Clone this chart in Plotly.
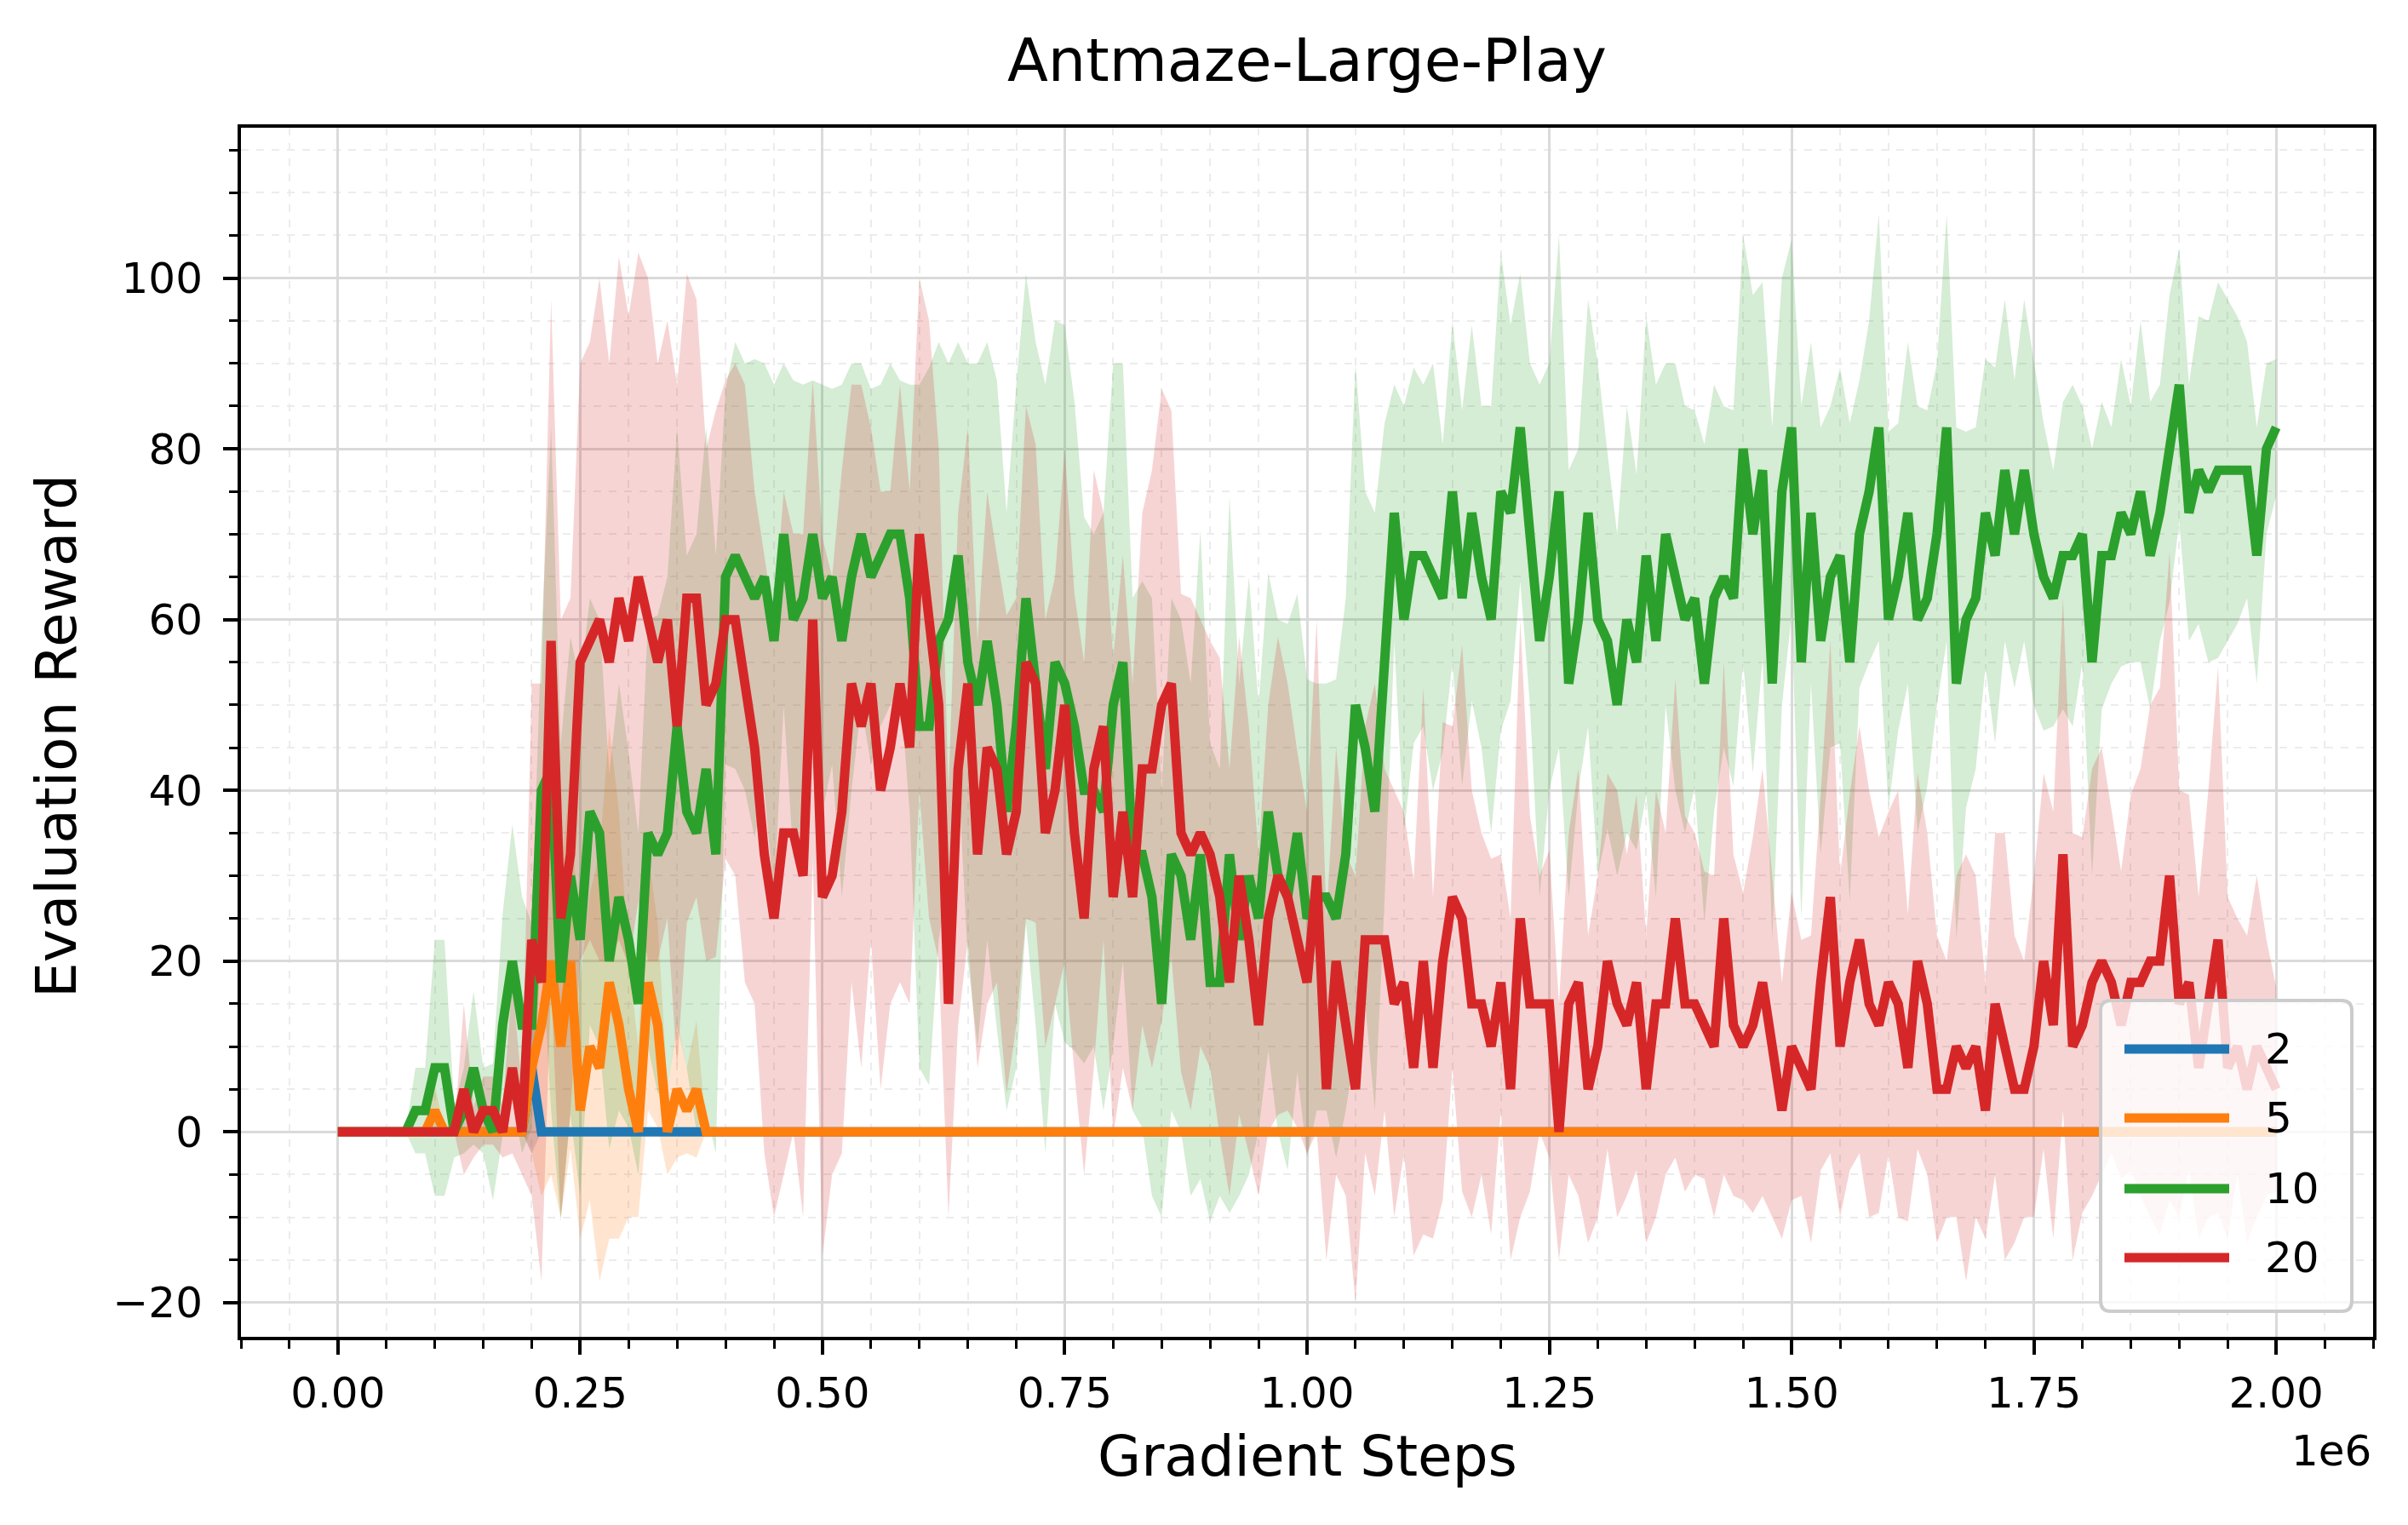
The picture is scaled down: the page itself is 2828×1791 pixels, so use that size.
import plotly.graph_objects as go

# ---------------- data ----------------
steps = [i * 10000 for i in range(201)]
series_names = ["2", "5", "10", "20"]
series_colors = ["#1f77b4", "#ff7f0e", "#2ca02c", "#d62728"]
band_colors = ["rgba(31,119,180,0.2)", "rgba(255,127,14,0.2)",
               "rgba(44,160,44,0.2)", "rgba(214,39,40,0.2)"]

mean_2 = [0.0] * 20 + [7.5] + [0.0] * 180
std_2 = [0.0] * 20 + [10.0] + [0.0] * 180

mean_5 = ([0, 0, 0, 0, 0, 0, 0, 0, 0, 0,
           2.5, 0, 0, 0, 0, 0, 0, 0, 0, 0,
           7.5, 12.5, 20, 10, 20, 2.5, 10, 7.5, 17.5, 12.5,
           5, 0, 17.5, 12.5, 0, 5, 2.5, 5, 0, 0] + [0.0] * 161)
std_5 = ([0, 0, 0, 0, 0, 0, 0, 0, 0, 0,
          3, 0, 0, 0, 0, 0, 0, 0, 0, 0,
          10, 20, 25, 20, 22, 15, 18, 25, 30, 25,
          15, 10, 15, 12, 5, 8, 5, 8, 0, 0] + [0.0] * 161)

mean_10 = [
    0, 0, 0, 0, 0, 0, 0, 0, 2.5, 2.5,
    7.5, 7.5, 0, 2.5, 7.5, 2.5, 0, 12.5, 20, 12.5,
    12.5, 40, 42.5, 17.5, 30, 22.5, 37.5, 35, 20, 27.5,
    22.5, 15, 35, 32.5, 35, 47.5, 37.5, 35, 42.5, 32.5,
    65, 67.5, 65, 62.5, 65, 57.5, 70, 60, 62.5, 70,
    62.5, 65, 57.5, 65, 70, 65, 67.5, 70, 70, 62.5,
    47.5, 47.5, 57.5, 60, 67.5, 55, 50, 57.5, 50, 37.5,
    47.5, 62.5, 52.5, 42.5, 55, 52.5, 47.5, 40, 40, 37.5,
    50, 55, 32.5, 32.5, 27.5, 15, 32.5, 30, 22.5, 32.5,
    17.5, 17.5, 32.5, 22.5, 30, 25, 37.5, 30, 27.5, 35,
    25, 27.5, 27.5, 25, 32.5, 50, 45, 37.5, 55, 72.5,
    60, 67.5, 67.5, 65, 62.5, 75, 62.5, 72.5, 65, 60,
    75, 72.5, 82.5, 70, 57.5, 65, 75, 52.5, 60, 72.5,
    60, 57.5, 50, 60, 55, 67.5, 57.5, 70, 65, 60,
    62.5, 52.5, 62.5, 65, 62.5, 80, 70, 77.5, 52.5, 75,
    82.5, 55, 72.5, 57.5, 65, 67.5, 55, 70, 75, 82.5,
    60, 65, 72.5, 60, 62.5, 70, 82.5, 52.5, 60, 62.5,
    72.5, 67.5, 77.5, 70, 77.5, 70, 65, 62.5, 67.5, 67.5,
    70, 55, 67.5, 67.5, 72.5, 70, 75, 67.5, 72.5, 80,
    87.5, 72.5, 77.5, 75, 77.5, 77.5, 77.5, 77.5, 67.5, 80,
    82.5]
std_10 = [
    0, 0, 0, 0, 0, 0, 0, 0, 5, 5,
    15, 15, 3, 5, 9, 5, 8, 13, 16, 15,
    12, 18, 40, 28, 28, 30, 25, 25, 22, 25,
    22, 20, 25, 28, 30, 35, 30, 35, 40, 35,
    22, 25, 25, 28, 25, 30, 20, 28, 25, 18,
    25, 22, 30, 25, 20, 22, 20, 20, 18, 25,
    40, 42, 35, 30, 25, 35, 40, 35, 38, 35,
    40, 38, 40, 45, 40, 42, 38, 32, 30, 35,
    40, 35, 30, 32, 35, 25, 30, 30, 30, 38,
    28, 25, 42, 30, 35, 25, 28, 30, 32, 28,
    28, 25, 25, 28, 30, 40, 30, 35, 28, 15,
    25, 22, 20, 25, 18, 20, 22, 22, 20, 25,
    28, 22, 18, 20, 30, 25, 30, 25, 20, 25,
    30, 22, 20, 25, 22, 28, 30, 20, 25, 25,
    22, 28, 25, 20, 22, 25, 28, 22, 30, 25,
    22, 30, 20, 25, 20, 22, 28, 18, 20, 25,
    22, 18, 20, 25, 22, 20, 25, 30, 22, 20,
    18, 22, 20, 18, 20, 20, 18, 15, 18, 20,
    15, 25, 18, 15, 18, 15, 20, 18, 15, 18,
    16, 15, 18, 20, 22, 20, 18, 15, 15, 10,
    8]

mean_20 = [
    0, 0, 0, 0, 0, 0, 0, 0, 0, 0,
    0, 0, 0, 5, 0, 2.5, 2.5, 0, 7.5, 0,
    22.5, 17.5, 57.5, 25, 32.5, 55, 57.5, 60, 55, 62.5,
    57.5, 65, 60, 55, 60, 47.5, 62.5, 62.5, 50, 52.5,
    60, 60, 52.5, 45, 32.5, 25, 35, 35, 30, 60,
    27.5, 30, 37.5, 52.5, 47.5, 52.5, 40, 45, 52.5, 45,
    70, 60, 50, 15, 42.5, 52.5, 32.5, 45, 42.5, 32.5,
    37.5, 55, 52.5, 35, 40, 50, 35, 25, 42.5, 47.5,
    27.5, 37.5, 27.5, 42.5, 42.5, 50, 52.5, 35, 32.5, 35,
    32.5, 27.5, 17.5, 30, 22.5, 12.5, 25, 30, 27.5, 22.5,
    17.5, 30, 5, 20, 12.5, 5, 22.5, 22.5, 22.5, 15,
    17.5, 7.5, 20, 7.5, 20, 27.5, 25, 15, 15, 10,
    17.5, 5, 25, 15, 15, 15, 0, 15, 17.5, 5,
    10, 20, 15, 12.5, 17.5, 5, 15, 15, 25, 15,
    15, 12.5, 10, 25, 12.5, 10, 12.5, 17.5, 10, 2.5,
    10, 7.5, 5, 17.5, 27.5, 10, 17.5, 22.5, 15, 12.5,
    17.5, 15, 7.5, 20, 15, 5, 5, 10, 7.5, 10,
    2.5, 15, 10, 5, 5, 10, 20, 12.5, 32.5, 10,
    12.5, 17.5, 20, 17.5, 12.5, 17.5, 17.5, 20, 20, 30,
    15, 17.5, 7.5, 15, 22.5, 7.5, 10, 5, 10, 7.5,
    5]
std_20 = [
    0, 0, 0, 0, 0, 0, 0, 0, 0, 0,
    0, 0, 0, 10, 3, 4, 4, 3, 10, 5,
    30, 35, 40, 35, 30, 35, 35, 40, 35, 40,
    38, 38, 40, 35, 35, 40, 38, 35, 30, 32,
    28, 30, 35, 30, 35, 35, 40, 35, 40, 28,
    42, 35, 40, 35, 40, 30, 35, 30, 35, 30,
    30, 35, 30, 25, 30, 30, 25, 30, 25, 28,
    25, 30, 28, 25, 25, 30, 28, 30, 35, 25,
    28, 30, 25, 30, 35, 37, 32, 28, 30, 25,
    25, 28, 25, 28, 25, 20, 25, 28, 25, 22,
    20, 30, 20, 25, 20, 25, 25, 30, 20, 25,
    20, 22, 32, 20, 28, 20, 32, 25, 20, 22,
    15, 20, 35, 22, 15, 18, 15, 20, 25, 18,
    20, 22, 25, 20, 22, 18, 25, 20, 28, 22,
    20, 18, 20, 30, 20, 18, 22, 25, 20, 15,
    18, 15, 18, 22, 30, 20, 22, 25, 25, 22,
    20, 25, 18, 22, 20, 18, 15, 20, 25, 20,
    15, 20, 25, 18, 15, 20, 22, 25, 30, 25,
    22, 25, 25, 20, 18, 22, 25, 30, 32, 38,
    25, 22, 20, 25, 32, 20, 15, 18, 20, 15,
    12]

means = [mean_2, mean_5, mean_10, mean_20]
stds = [std_2, std_5, std_10, std_20]

title_text = "Antmaze-Large-Play"
x_label = "Gradient Steps"
y_label = "Evaluation Reward"

# ---------------- figure ----------------
W, H = 2828, 1791
ML, MR, MT, MB = 283, 41, 150, 221
FONT = "DejaVu Sans"

x = [s / 1e6 for s in steps]
fig = go.Figure()
# shaded bands first
for name, bcol, m, s in zip(series_names, band_colors, means, stds):
    upper = [a + b for a, b in zip(m, s)]
    lower = [a - b for a, b in zip(m, s)]
    fig.add_trace(go.Scatter(x=x + x[::-1], y=upper + lower[::-1], mode="lines",
                             fill="toself", fillcolor=bcol, line=dict(width=0),
                             hoverinfo="skip", showlegend=False))
# mean lines on top
for name, col, m in zip(series_names, series_colors, means):
    fig.add_trace(go.Scatter(x=x, y=m, mode="lines", name=name,
                             line=dict(color=col, width=11), showlegend=False))

axis_common = dict(
    ticks="outside", ticklen=17, tickwidth=4, tickcolor="black",
    showline=True, linewidth=4, linecolor="black", mirror=True,
    showgrid=True, gridcolor="#dadada", gridwidth=3, zeroline=False,
    tickfont=dict(family=FONT, size=50, color="black"),
)
fig.update_xaxes(range=[-0.1, 2.1], tickmode="linear", tick0=0, dtick=0.25,
                 tickformat=".2f", ticklabelstandoff=2,
                 minor=dict(tick0=0, dtick=0.05, ticks="outside", ticklen=10,
                            tickwidth=3, tickcolor="black", showgrid=True,
                            gridcolor="#ececec", griddash="dash", gridwidth=2),
                 **axis_common)
fig.update_yaxes(range=[-24, 117.6], tickmode="linear", tick0=0, dtick=20,
                 ticklabelstandoff=14,
                 minor=dict(tick0=0, dtick=5, ticks="outside", ticklen=10,
                            tickwidth=3, tickcolor="black", showgrid=True,
                            gridcolor="#ececec", griddash="dash", gridwidth=2),
                 **axis_common)

def px_x(X):
    return (X - ML) / (W - ML - MR)

def px_y(Y):
    return (H - MB - Y) / (H - MT - MB)

annotations = [
    dict(text="1e6", x=1.0, xanchor="right", y=px_y(1704), yanchor="middle",
         xref="paper", yref="paper", showarrow=False,
         font=dict(family=FONT, size=50, color="black")),
    dict(text=x_label, x=0.5, xanchor="center", y=px_y(1710), yanchor="middle",
         xref="paper", yref="paper", showarrow=False,
         font=dict(family=FONT, size=66, color="black")),
    dict(text=y_label, x=px_x(66), xanchor="center", y=px_y(865), yanchor="middle",
         xref="paper", yref="paper", showarrow=False, textangle=-90,
         font=dict(family=FONT, size=66, color="black")),
]

# custom legend (lower right, rounded box)
x0, x1 = px_x(2467), px_x(2762)
y0, y1 = px_y(1540), px_y(1175)
rx, ry = 12 / (W - ML - MR), 12 / (H - MT - MB)
path = (f"M {x0+rx},{y0} L {x1-rx},{y0} Q {x1},{y0} {x1},{y0+ry} "
        f"L {x1},{y1-ry} Q {x1},{y1} {x1-rx},{y1} L {x0+rx},{y1} "
        f"Q {x0},{y1} {x0},{y1-ry} L {x0},{y0+ry} Q {x0},{y0} {x0+rx},{y0} Z")
shapes = [dict(type="path", path=path, xref="paper", yref="paper",
               fillcolor="rgba(255,255,255,0.8)",
               line=dict(color="#cccccc", width=4), layer="above")]
row_px = [1232, 1313, 1396, 1477]
for name, col, ry_px in zip(series_names, series_colors, row_px):
    yy = px_y(ry_px)
    shapes.append(dict(type="line", xref="paper", yref="paper",
                       x0=px_x(2495), x1=px_x(2618), y0=yy, y1=yy,
                       line=dict(color=col, width=11), layer="above"))
    annotations.append(dict(text=name, x=px_x(2658), xanchor="left", y=yy,
                            yanchor="middle", xref="paper", yref="paper",
                            showarrow=False,
                            font=dict(family=FONT, size=50, color="black")))

fig.update_layout(
    width=W, height=H,
    margin=dict(l=ML, r=MR, t=MT, b=MB, pad=0),
    paper_bgcolor="white", plot_bgcolor="white",
    font=dict(family=FONT, color="black"),
    title=dict(text=title_text, x=0.5, xref="paper", xanchor="center",
               y=1 - 70 / H, yref="container", yanchor="middle",
               font=dict(family=FONT, size=70, color="black")),
    showlegend=False,
    annotations=annotations,
    shapes=shapes,
)

fig.write_html("out.html")
